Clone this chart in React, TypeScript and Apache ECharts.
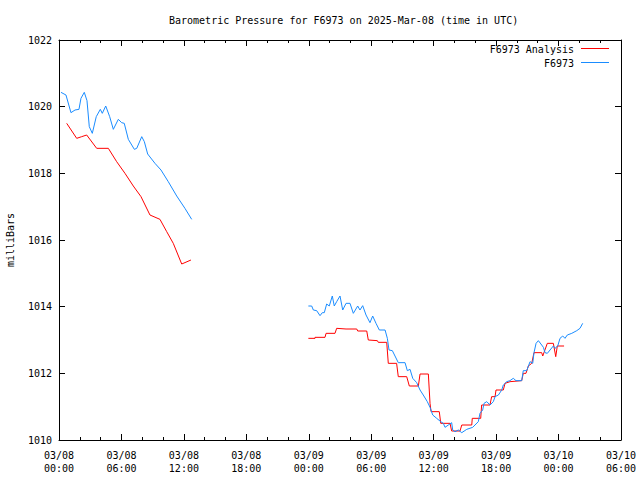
import React, { useEffect, useRef } from "react";
import * as echarts from "echarts";

// hours since 2025-03-08 00:00 UTC
const stationHours1 = [0.19, 0.67, 1.15, 1.54, 1.92, 2.11, 2.43, 2.69, 2.91, 3.2, 3.58, 3.97, 4.16, 4.49, 4.87, 5.22, 5.7, 6.02, 6.27, 6.66, 7.24, 7.47, 7.95, 8.2, 8.52, 9.22, 9.8, 10.5, 11.31, 12.1, 12.75];
const stationValues1 = [1020.43, 1020.35, 1019.82, 1019.9, 1019.92, 1020.25, 1020.43, 1020.18, 1019.4, 1019.2, 1019.7, 1019.92, 1019.8, 1020.02, 1019.7, 1019.32, 1019.62, 1019.52, 1019.5, 1019.02, 1018.72, 1018.75, 1019.1, 1018.95, 1018.58, 1018.3, 1018.1, 1017.75, 1017.32, 1016.95, 1016.62];

const analysisHours1 = [0.74, 1.7, 2.18, 2.66, 3.62, 4.74, 5.54, 6.34, 7.14, 7.88, 8.74, 9.7, 10.35, 10.98, 11.79, 12.68];
const analysisValues1 = [1019.5, 1019.05, 1019.1, 1019.15, 1018.75, 1018.75, 1018.35, 1018.0, 1017.62, 1017.3, 1016.75, 1016.62, 1016.25, 1015.9, 1015.28, 1015.4];

const stationHours2 = [23.96, 24.28, 24.44, 24.76, 25.08, 25.3, 25.49, 25.72, 25.97, 26.26, 26.45, 26.68, 27.0, 27.26, 27.58, 27.96, 28.28, 28.7, 28.92, 29.18, 29.5, 29.88, 30.14, 30.46, 30.78, 31.33, 31.55, 31.71, 32.03, 32.6, 33.25, 33.47, 33.73, 33.99, 34.37, 34.69, 35.0, 35.39, 35.65, 35.91, 36.29, 36.68, 36.93, 37.09, 37.41, 37.73, 37.83, 38.05, 38.37, 38.7, 39.18, 39.75, 40.29, 40.45, 40.71, 40.84, 41.1, 41.42, 41.73, 41.9, 42.22, 42.54, 42.69, 43.02, 43.33, 43.65, 43.91, 44.46, 44.61, 44.94, 45.26, 45.52, 45.64, 45.84, 46.06, 46.38, 46.54, 46.7, 46.92, 47.18, 47.5, 47.66, 47.92, 48.14, 48.4, 48.62, 48.84, 49.27, 49.75, 50.06, 50.32];
const stationValues2 = [1014.02, 1014.02, 1013.9, 1013.88, 1013.73, 1013.82, 1013.82, 1014.08, 1014.02, 1014.32, 1014.02, 1014.15, 1014.32, 1013.9, 1014.1, 1014.1, 1013.8, 1014.02, 1013.9, 1014.03, 1013.75, 1013.52, 1013.72, 1013.5, 1013.3, 1013.3, 1013.05, 1012.7, 1012.68, 1012.32, 1012.32, 1012.08, 1012.12, 1011.85, 1011.72, 1011.5, 1011.35, 1011.15, 1010.98, 1010.75, 1010.65, 1010.55, 1010.5, 1010.38, 1010.45, 1010.52, 1010.3, 1010.25, 1010.3, 1010.22, 1010.32, 1010.38, 1010.55, 1010.8, 1010.9, 1011.1, 1011.15, 1011.05, 1011.15, 1011.3, 1011.35, 1011.5, 1011.65, 1011.75, 1011.78, 1011.85, 1011.78, 1011.78, 1012.08, 1012.08, 1012.35, 1012.3, 1012.62, 1012.9, 1012.98, 1012.85, 1012.78, 1012.62, 1012.6, 1012.7, 1012.82, 1012.75, 1012.82, 1013.05, 1013.12, 1013.05, 1013.15, 1013.2, 1013.28, 1013.35, 1013.5];

const analysisHours2 = [23.96, 24.6, 24.6, 25.56, 25.66, 26.52, 26.68, 27.58, 28.61, 28.7, 29.57, 29.72, 30.59, 30.68, 31.49, 31.64, 32.44, 32.6, 33.41, 33.66, 34.53, 34.69, 35.49, 35.65, 35.75, 36.54, 36.68, 37.57, 37.73, 38.53, 38.7, 39.66, 39.71, 40.52, 40.61, 41.41, 41.57, 41.9, 41.99, 42.69, 42.86, 43.34, 44.46, 44.61, 44.87, 45.1, 45.42, 45.64, 46.38, 46.48, 46.92, 47.5, 47.73, 47.88, 48.53];
const analysisValues2 = [1013.05, 1013.05, 1013.08, 1013.08, 1013.2, 1013.2, 1013.35, 1013.33, 1013.33, 1013.27, 1013.27, 1013.0, 1012.98, 1012.93, 1012.93, 1012.3, 1012.3, 1011.9, 1011.9, 1011.62, 1011.62, 1011.98, 1011.98, 1011.1, 1010.85, 1010.85, 1010.5, 1010.5, 1010.27, 1010.27, 1010.45, 1010.45, 1010.65, 1010.65, 1011.05, 1011.05, 1011.3, 1011.3, 1011.5, 1011.5, 1011.7, 1011.75, 1011.78, 1012.0, 1012.0, 1012.22, 1012.3, 1012.62, 1012.62, 1012.52, 1012.9, 1012.9, 1012.5, 1012.82, 1012.82];

const xTickLabels = ["03/08\n00:00", "03/08\n06:00", "03/08\n12:00", "03/08\n18:00", "03/09\n00:00", "03/09\n06:00", "03/09\n12:00", "03/09\n18:00", "03/10\n00:00", "03/10\n06:00"];
const legendNames = ["F6973 Analysis", "F6973"];

const RED = "#ff0000";
const BLUE = "#1a8cff";
const FONT = "DejaVu Sans Mono";

const zip = (xs: number[], ys: number[]) => xs.map((x, i) => [x, ys[i]]);

export default function App() {
  const ref = useRef<HTMLDivElement>(null);
  useEffect(() => {
    if (!ref.current) return;
    const chart = echarts.init(ref.current, null, { renderer: "svg" });
    const tickCommon = { show: true, inside: true, length: 6, lineStyle: { color: "#000" } };
    const lineCommon = { type: "line", showSymbol: false, symbol: "none", lineStyle: { width: 1 }, silent: true };
    chart.setOption({
      animation: false,
      backgroundColor: "#fff",
      textStyle: { fontFamily: FONT },
      title: {
        text: "Barometric Pressure for F6973 on 2025-Mar-08 (time in UTC)",
        left: 164,
        top: 10,
        textStyle: { fontFamily: FONT, fontSize: 10, fontWeight: "normal", color: "#000" },
      },
      grid: { left: 59, right: 19, top: 40, bottom: 40, containLabel: false, outerBoundsMode: "none" },
      xAxis: [
        {
          type: "value",
          min: 0,
          max: 54,
          interval: 6,
          axisLine: { show: true, onZero: false, lineStyle: { color: "#000", width: 1 } },
          axisTick: tickCommon,
          minorTick: { show: true, splitNumber: 3, length: 3, lineStyle: { color: "#000" } },
          splitLine: { show: false },
          axisLabel: {
            margin: 9,
            fontFamily: FONT,
            fontSize: 10,
            color: "#000",
            lineHeight: 13,
            formatter: (v: number) => xTickLabels[Math.round(v / 6)] ?? "",
          },
        },
        {
          type: "value",
          position: "top",
          min: 0,
          max: 54,
          interval: 6,
          axisLine: { show: true, onZero: false, lineStyle: { color: "#000", width: 1 } },
          axisTick: tickCommon,
          minorTick: { show: true, splitNumber: 3, length: 3, lineStyle: { color: "#000" } },
          splitLine: { show: false },
          axisLabel: { show: false },
        },
      ],
      yAxis: [
        {
          type: "value",
          min: 1010,
          max: 1022,
          interval: 2,
          name: "milliBars",
          nameLocation: "middle",
          nameGap: 44,
          nameRotate: 90,
          nameTextStyle: { fontFamily: FONT, fontSize: 10, color: "#000" },
          axisLine: { show: true, onZero: false, lineStyle: { color: "#000", width: 1 } },
          axisTick: tickCommon,
          splitLine: { show: false },
          axisLabel: { margin: 7, fontFamily: FONT, fontSize: 10, color: "#000", formatter: (v: number) => String(v) },
        },
        {
          type: "value",
          position: "right",
          min: 1010,
          max: 1022,
          interval: 2,
          axisLine: { show: true, onZero: false, lineStyle: { color: "#000", width: 1 } },
          axisTick: tickCommon,
          splitLine: { show: false },
          axisLabel: { show: false },
        },
      ],
      series: [
        { ...lineCommon, name: legendNames[0], color: RED, lineStyle: { width: 1, color: RED }, data: zip(analysisHours1, analysisValues1) },
        { ...lineCommon, name: legendNames[0] + " b", color: RED, lineStyle: { width: 1, color: RED }, data: zip(analysisHours2, analysisValues2) },
        { ...lineCommon, name: legendNames[1], color: BLUE, lineStyle: { width: 1, color: BLUE }, data: zip(stationHours1, stationValues1) },
        { ...lineCommon, name: legendNames[1] + " b", color: BLUE, lineStyle: { width: 1, color: BLUE }, data: zip(stationHours2, stationValues2) },
      ],
      graphic: [
        { type: "text", x: 574, y: 49, style: { text: legendNames[0], fontFamily: FONT, fontSize: 10, fill: "#000", align: "right", verticalAlign: "middle" } },
        { type: "line", shape: { x1: 581, y1: 48.5, x2: 609, y2: 48.5 }, style: { stroke: RED, lineWidth: 1 } },
        { type: "text", x: 574, y: 63, style: { text: legendNames[1], fontFamily: FONT, fontSize: 10, fill: "#000", align: "right", verticalAlign: "middle" } },
        { type: "line", shape: { x1: 581, y1: 62.5, x2: 609, y2: 62.5 }, style: { stroke: BLUE, lineWidth: 1 } },
      ],
    });
    return () => chart.dispose();
  }, []);
  return <div ref={ref} style={{ position: "absolute", left: 0, top: 0, width: 640, height: 480 }} />;
}
